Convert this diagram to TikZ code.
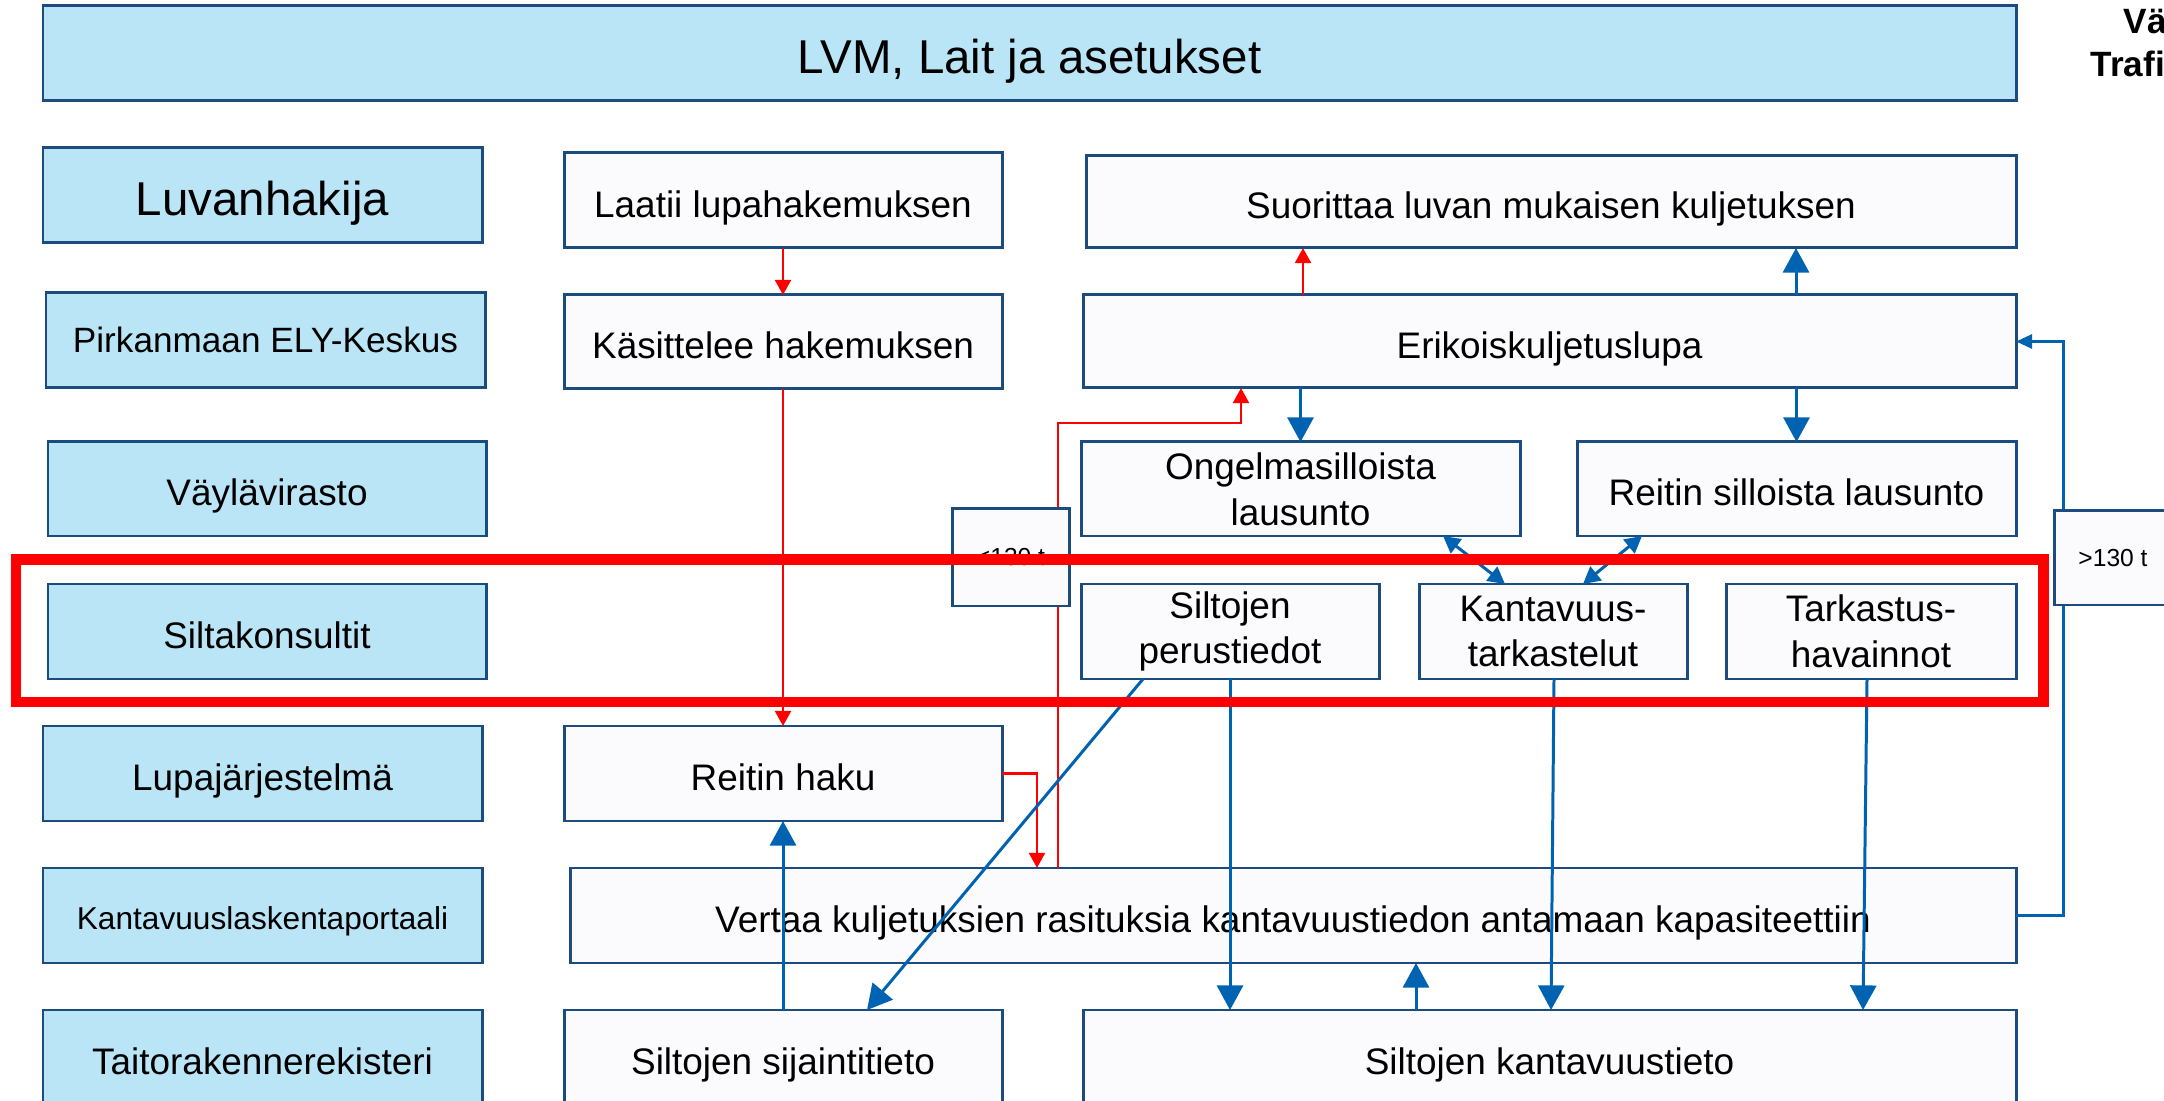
\documentclass[tikz,border=0pt]{standalone}
\usepackage{fontspec}
\setmainfont{Liberation Sans}
\usetikzlibrary{arrows.meta}
\definecolor{lblue}{RGB}{185,229,247}
\definecolor{bord}{RGB}{28,75,125}
\definecolor{wfill}{RGB}{251,251,254}
\definecolor{arrblue}{RGB}{0,99,177}
\definecolor{myred}{RGB}{255,0,0}
\tikzset{
 bx/.style 2 args={minimum width=#1*0.01cm, minimum height=#2*0.01cm},
 role/.style={draw=bord, line width=0.85pt, fill=lblue, inner sep=0pt, outer sep=0pt, align=center, font=\fontsize{10.5}{13}\selectfont},
 task/.style={draw=bord, line width=0.85pt, fill=wfill, inner sep=0pt, outer sep=0pt, align=center, font=\fontsize{10.5}{13}\selectfont},
 sline/.style={text height=11.9pt, text depth=2.5pt},
 bigtxt/.style={font=\fontsize{13.5}{16}\selectfont, text height=13.9pt, text depth=2.8pt},
 elytxt/.style={font=\fontsize{10}{12}\selectfont, text height=9.6pt, text depth=2.5pt},
 smalltxt/.style={font=\fontsize{9}{11}\selectfont, text height=10.2pt, text depth=2.4pt},
 mline/.style={yshift=0pt},
 redarr/.style={draw=myred, line width=0.8pt, -{Triangle[width=4.5pt,length=4.3pt]}},
 bluebig/.style={draw=arrblue, line width=0.85pt, -{Triangle[width=7.4pt,length=7pt]}},
 bluemid/.style={draw=arrblue, line width=0.85pt, {Triangle[width=5pt,length=4.8pt]}-{Triangle[width=5pt,length=4.8pt]}},
 bluesmall/.style={draw=arrblue, line width=0.85pt, -{Triangle[width=4pt,length=4.6pt]}},
 tonlabel/.style={task, font=\fontsize{7}{8}\selectfont, text height=6pt, text depth=1.2pt},
 logotxt/.style={anchor=west, inner sep=0pt, font=\bfseries\fontsize{10}{12}\selectfont},
}
\begin{document}
\begin{tikzpicture}[x=0.01cm,y=-0.01cm]
\useasboundingbox (0,0) rectangle (2164,1101);
\fill[white] (0,0) rectangle (2164,1101);

% role column
\node[role,bx={1973}{95},bigtxt] (lvm) at (1029.5,53.5) {LVM, Lait ja asetukset};
\node[role,bx={439}{95},bigtxt] (luv) at (262.5,195.5) {Luvanhakija};
\node[role,bx={439}{95},elytxt] (ely) at (265.5,340.5) {Pirkanmaan ELY-Keskus};
\node[role,bx={438}{94},sline] (vay) at (267,489) {Väylävirasto};
\node[role,bx={438}{95},sline] (silta) at (267,631.5) {Siltakonsultit};
\node[role,bx={439}{95},sline] (lupa) at (262.5,773.5) {Lupajärjestelmä};
\node[role,bx={439}{95},smalltxt] (kpor) at (262.5,915.5) {Kantavuuslaskentaportaali};
\node[role,bx={439}{95},sline] (trr) at (262.5,1057.5) {Taitorakennerekisteri};

% tasks
\node[task,bx={438}{95},sline] (laatii) at (783,200.5) {Laatii lupahakemuksen};
\node[task,bx={438}{94},sline] (kasit) at (783,342) {Käsittelee hakemuksen};
\node[task,bx={438}{95},sline] (reitin) at (783,773.5) {Reitin haku};
\node[task,bx={438}{95},sline] (sijainti) at (783,1057.5) {Siltojen sijaintitieto};

\node[task,bx={930}{92},sline] (suor) at (1551,202) {Suorittaa luvan mukaisen kuljetuksen};
\node[task,bx={933}{93},sline] (erik) at (1549.5,341.5) {Erikoiskuljetuslupa};
\node[task,bx={439}{94}] (ongel) at (1300.5,489) {Ongelmasilloista\\lausunto};
\node[task,bx={439}{94},sline] (reitsil) at (1796.5,489) {Reitin silloista lausunto};
\node[task,bx={298}{95}] (perus) at (1230,631.5) {Siltojen\\perustiedot};
\node[task,bx={268}{95}] (kant) at (1553,631.5) {Kantavuus-\\tarkastelut};
\node[task,bx={290}{95}] (tark) at (1871,631.5) {Tarkastus-\\havainnot};
\node[task,bx={1446}{95},sline] (vert) at (1293,915.5) {Vertaa kuljetuksien rasituksia kantavuustiedon antamaan kapasiteettiin};
\node[task,bx={933}{95},sline] (kantie) at (1549.5,1057.5) {Siltojen kantavuustieto};

% logo text (cut by the page edge, as in the reference)
\node[logotxt] (logo1) at (2123,24) {Väylävirasto};
\node[logotxt] (logo2) at (2090,64) {Trafikledsverket};

% helper coordinates
\coordinate (xr1) at (1037,0);
\coordinate (xr2) at (1058,0);
\coordinate (yr2) at (0,423);
\coordinate (xr3) at (1241,0);
\coordinate (xr4) at (1303,0);
\coordinate (xb1) at (1796,0);
\coordinate (xd1) at (1443,0);
\coordinate (xd2) at (1505,0);
\coordinate (xd3) at (1642,0);
\coordinate (xd4) at (1583,0);
\coordinate (xd5) at (1143,0);
\coordinate (xd6) at (867,0);
\coordinate (xk1) at (1554,0);
\coordinate (xk2) at (1551,0);
\coordinate (xt1) at (1867,0);
\coordinate (xt2) at (1863,0);
\coordinate (xv) at (1416,0);
\coordinate (xe) at (2063,0);

% red connectors
\draw[redarr] (laatii.south) -- (kasit.north);
\draw[redarr] (kasit.south) -- (reitin.north);
\draw[redarr] (reitin.east) -| (vert.north -| xr1);
\draw[redarr] (vert.north -| xr2) -- (yr2 -| xr2) -- (yr2 -| xr3) -- (erik.south -| xr3);
\draw[redarr] (erik.north -| xr4) -- (suor.south -| xr4);

% blue connectors
\draw[bluebig] (erik.north -| xb1) -- (suor.south -| xb1);
\draw[bluebig] (erik.south -| ongel.north) -- (ongel.north);
\draw[bluebig] (erik.south -| reitsil.north) -- (reitsil.north);
\draw[bluemid] (ongel.south -| xd1) -- (kant.north -| xd2);
\draw[bluemid] (reitsil.south -| xd3) -- (kant.north -| xd4);
\draw[bluebig] (perus.south -| xd5) -- (sijainti.north -| xd6);
\draw[bluebig] (perus.south) -- (kantie.north -| perus.south);
\draw[bluebig] (kant.south -| xk1) -- (kantie.north -| xk2);
\draw[bluebig] (tark.south -| xt1) -- (kantie.north -| xt2);
\draw[bluebig] (kantie.north -| xv) -- (vert.south -| xv);
\draw[bluebig] (sijainti.north) -- (reitin.south);
\draw[bluesmall] (vert.east) -| (erik.east -| xe) -- (erik.east);

% weight labels
\node[tonlabel,bx={117}{97}] (lt) at (1010.5,557.5) {<130 t};
\node[tonlabel,bx={118}{94}] (gt) at (2113,558) {>130 t};

% red highlight frame
\draw[myred, line width=3.1pt] (16,559.5) rectangle (2043.5,702);
\end{tikzpicture}
\end{document}
